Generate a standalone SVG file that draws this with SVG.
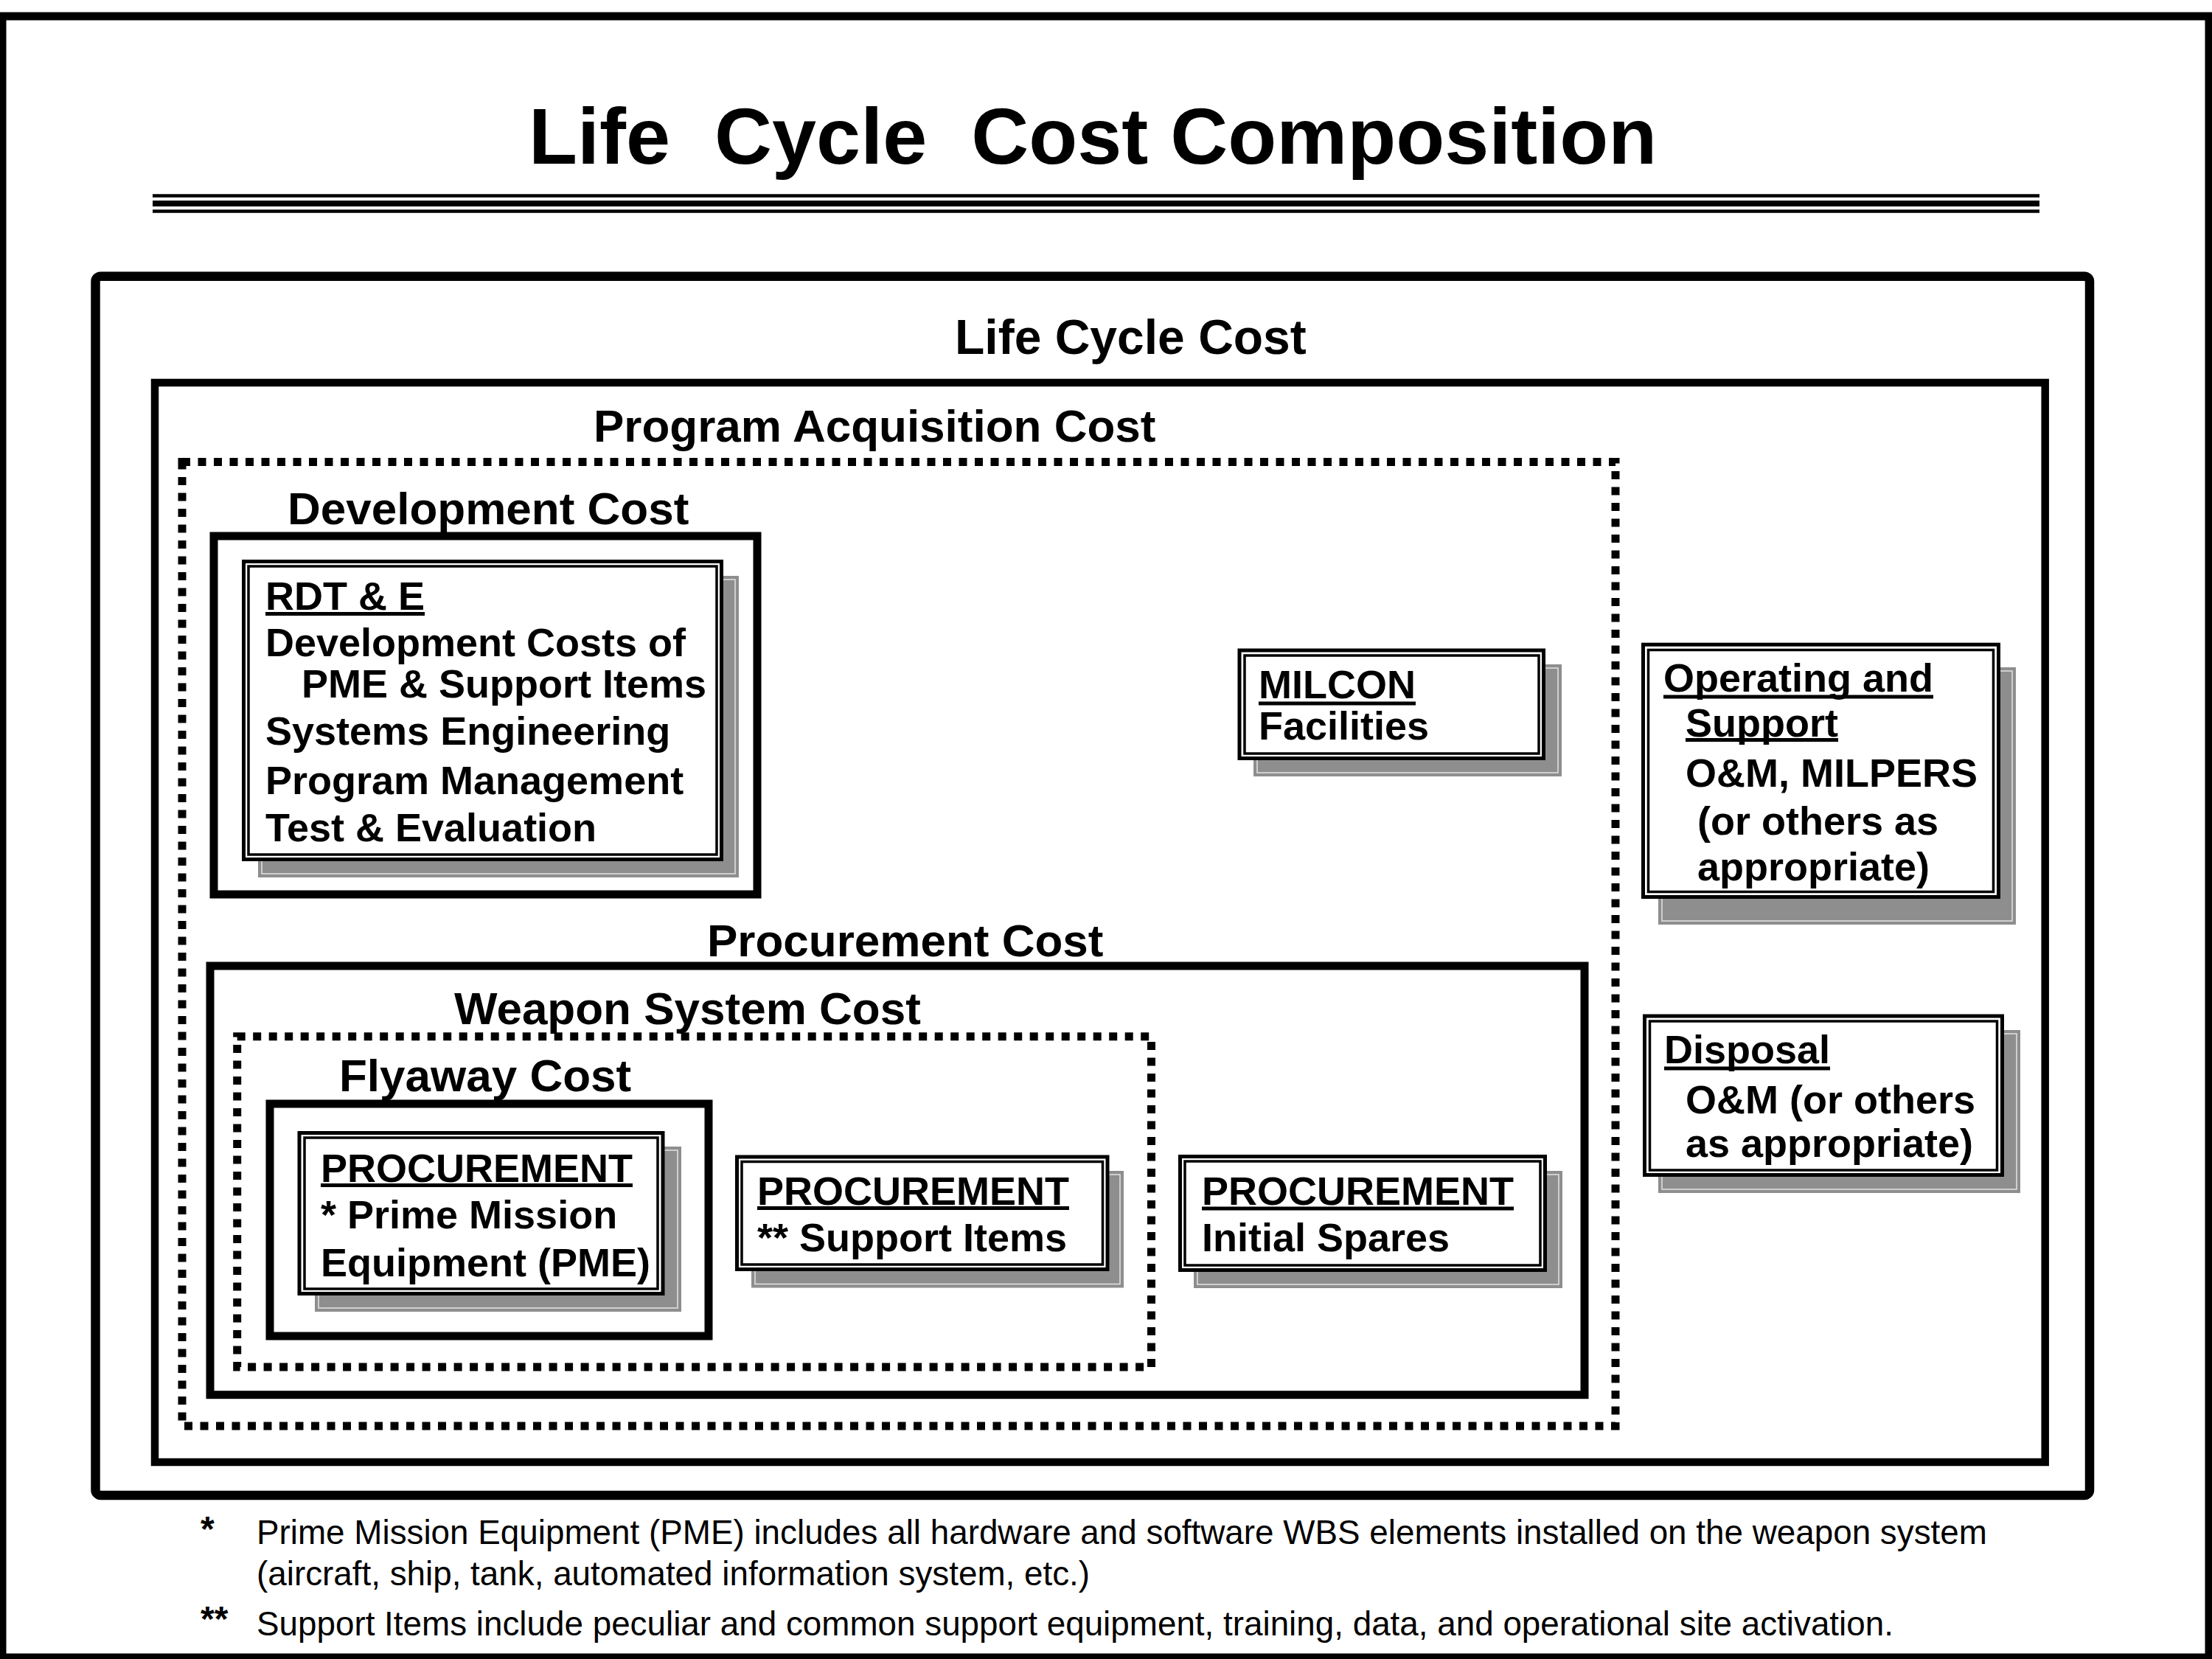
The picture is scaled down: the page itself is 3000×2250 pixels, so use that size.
<svg xmlns="http://www.w3.org/2000/svg" width="3000" height="2250" viewBox="0 0 3000 2250">
<style>
.t{font-family:"Liberation Sans",Arial,sans-serif;font-weight:bold;fill:#000}
.ttl{font-size:108px}
.lbl{font-size:62px}
.bx{font-size:54px}
.fn{font-weight:normal;font-size:45.8px}
.solid{fill:none;stroke:#000;stroke-width:11}
.dot{fill:none;stroke:#000;stroke-width:11;stroke-dasharray:11 10.5}
.o{fill:#fff;stroke:#000;stroke-width:5}
.i{fill:none;stroke:#000;stroke-width:3.5}
.sh{fill:#8e8e8e}
.shl{fill:none;stroke:#e4e4e4;stroke-width:1.5}
.ul{stroke:#000;stroke-width:5}
</style>
<rect width="3000" height="2250" fill="#fff"/>
<rect x="3" y="22" width="2993" height="2226" fill="none" stroke="#000" stroke-width="11"/>

<g id="title">
<text class="t ttl" x="717" y="222" xml:space="preserve">Life  Cycle  Cost Composition</text>
<line x1="207" y1="265.5" x2="2766" y2="265.5" stroke="#000" stroke-width="4.5"/>
<line x1="207" y1="276" x2="2766" y2="276" stroke="#000" stroke-width="8"/>
<line x1="207" y1="286.5" x2="2766" y2="286.5" stroke="#000" stroke-width="4.5"/>
</g>

<g id="life-cycle-cost">
<rect x="129.5" y="374.7" width="2704.5" height="1653.3" rx="7" fill="none" stroke="#000" stroke-width="12.5"/>
<text class="t" font-size="66" x="1295" y="480">Life Cycle Cost</text>
<rect x="210" y="519" width="2563.7" height="1464" fill="none" stroke="#000" stroke-width="10.5"/>
</g>

<g id="program-acquisition-cost">
<text class="t lbl" x="805" y="599">Program Acquisition Cost</text>
<rect class="dot" x="247" y="626.5" width="1944" height="1307.5"/>
</g>

<g id="development-cost">
<text class="t lbl" x="390" y="711">Development Cost</text>
<rect class="solid" x="290" y="727" width="737" height="486"/>
</g>

<g id="rdte">
<rect class="sh" x="350" y="781" width="652" height="409"/>
<rect class="shl" x="355" y="786" width="642" height="399"/>
<rect class="o" x="330.5" y="761.5" width="648" height="404"/>
<rect class="i" x="337" y="768" width="635" height="391"/>
<text class="t bx" x="360" y="827">RDT &amp; E</text>
<line class="ul" x1="360" y1="832.5" x2="576" y2="832.5"/>
<text class="t bx" x="360" y="890">Development Costs of</text>
<text class="t bx" x="409" y="946">PME &amp; Support Items</text>
<text class="t bx" x="360" y="1010">Systems Engineering</text>
<text class="t bx" x="360" y="1077">Program Management</text>
<text class="t bx" x="360" y="1141">Test &amp; Evaluation</text>
</g>

<g id="milcon">
<rect class="sh" x="1700" y="901" width="418" height="152"/>
<rect class="shl" x="1705" y="906" width="408" height="142"/>
<rect class="o" x="1681" y="882" width="412.5" height="146.5"/>
<rect class="i" x="1688" y="889" width="399" height="133"/>
<text class="t bx" x="1707" y="947">MILCON</text>
<line class="ul" x1="1707" y1="954" x2="1920" y2="954"/>
<text class="t bx" x="1707" y="1003">Facilities</text>
</g>

<g id="operating-support">
<rect class="sh" x="2249" y="905" width="485" height="349"/>
<rect class="shl" x="2254" y="910" width="475" height="339"/>
<rect class="o" x="2228.5" y="874.2" width="482" height="342.3"/>
<rect class="i" x="2235.5" y="881.5" width="468" height="328"/>
<text class="t bx" x="2256" y="938">Operating and</text>
<line class="ul" x1="2256" y1="945" x2="2622" y2="945"/>
<text class="t bx" x="2286" y="999">Support</text>
<line class="ul" x1="2286" y1="1003.5" x2="2493" y2="1003.5"/>
<text class="t bx" x="2286" y="1067">O&amp;M, MILPERS</text>
<text class="t bx" x="2302" y="1132">(or others as</text>
<text class="t bx" x="2302" y="1194">appropriate)</text>
</g>

<g id="disposal">
<rect class="sh" x="2249" y="1397" width="491" height="221"/>
<rect class="shl" x="2254" y="1402" width="481" height="211"/>
<rect class="o" x="2230.5" y="1378" width="485" height="215.5"/>
<rect class="i" x="2237.5" y="1385" width="471" height="202"/>
<text class="t bx" x="2257" y="1442">Disposal</text>
<line class="ul" x1="2257" y1="1449" x2="2482" y2="1449"/>
<text class="t bx" x="2286" y="1510">O&amp;M (or others</text>
<text class="t bx" x="2286" y="1569">as appropriate)</text>
</g>

<g id="procurement-cost">
<text class="t lbl" x="959" y="1297">Procurement Cost</text>
<rect class="solid" x="285" y="1310" width="1864" height="581.7"/>
</g>

<g id="weapon-system-cost">
<text class="t lbl" x="616" y="1389">Weapon System Cost</text>
<rect class="dot" x="321.7" y="1405.7" width="1239.8" height="448.3"/>
</g>

<g id="flyaway-cost">
<text class="t lbl" x="460" y="1480">Flyaway Cost</text>
<rect class="solid" x="366" y="1497" width="595" height="315"/>
</g>

<g id="procurement-pme">
<rect class="sh" x="427" y="1555" width="497" height="224"/>
<rect class="shl" x="432" y="1560" width="487" height="214"/>
<rect class="o" x="406" y="1536.5" width="493" height="218"/>
<rect class="i" x="413" y="1543" width="479" height="205"/>
<text class="t bx" x="435" y="1603">PROCUREMENT</text>
<line class="ul" x1="435" y1="1607.5" x2="858" y2="1607.5"/>
<text class="t bx" x="435" y="1666">* Prime Mission</text>
<text class="t bx" x="435" y="1731">Equipment (PME)</text>
</g>

<g id="procurement-support">
<rect class="sh" x="1019" y="1588" width="505" height="158.5"/>
<rect class="shl" x="1024" y="1593" width="495" height="148.5"/>
<rect class="o" x="999.5" y="1569" width="502.5" height="152.5"/>
<rect class="i" x="1006" y="1575.5" width="489.5" height="139.5"/>
<text class="t bx" x="1027" y="1633.5">PROCUREMENT</text>
<line class="ul" x1="1027" y1="1638.5" x2="1450" y2="1638.5"/>
<text class="t bx" x="1027" y="1697">** Support Items</text>
</g>

<g id="procurement-spares">
<rect class="sh" x="1619" y="1588" width="500" height="159"/>
<rect class="shl" x="1624" y="1593" width="490" height="149"/>
<rect class="o" x="1600.5" y="1568.5" width="495" height="154"/>
<rect class="i" x="1607" y="1575" width="482" height="141"/>
<text class="t bx" x="1630" y="1633.5">PROCUREMENT</text>
<line class="ul" x1="1630" y1="1639" x2="2053" y2="1639"/>
<text class="t bx" x="1630" y="1697">Initial Spares</text>
</g>

<g id="connectors"></g>

<g id="footnotes">
<text class="t" font-size="48" x="272" y="2090">*</text>
<text class="t fn" x="348" y="2094">Prime Mission Equipment (PME) includes all hardware and software WBS elements installed on the weapon system</text>
<text class="t fn" x="348" y="2150">(aircraft, ship, tank, automated information system, etc.)</text>
<text class="t" font-size="48" x="272" y="2212">**</text>
<text class="t fn" x="348" y="2218">Support Items include peculiar and common support equipment, training, data, and operational site activation.</text>
</g>
</svg>
